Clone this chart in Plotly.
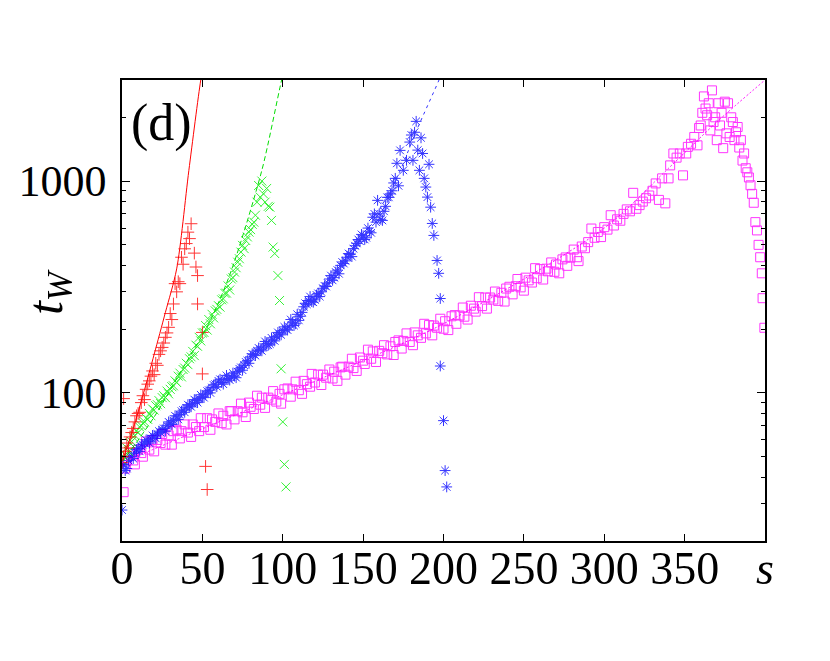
import plotly.graph_objects as go
import math

# ---------------- data ----------------
red_s = [0, 1, 1, 2, 3, 4, 5, 6, 7, 8, 9, 10, 11, 12, 13, 14, 15, 16, 17, 18, 19, 20, 21, 22, 23, 24,
         25, 26, 27, 28, 29, 30, 31, 32, 33, 34, 35, 36, 37, 38, 39, 40, 41, 42, 43, 45, 46, 47, 47,
         50, 50, 52, 53]
red_t = [47, 94, 50, 53, 58, 55, 62, 65, 68, 73, 78, 80, 81, 90, 97, 93, 104, 110, 114, 120, 127, 122,
         138, 135, 152, 158, 164, 172, 183, 192, 204, 237, 222, 263, 328, 300, 335, 328, 437, 405, 479,
         507, 574, 535, 629, 457, 393, 358, 263, 193, 123, 45, 35]

green_s = list(range(0, 96)) + [97, 98, 99, 100, 101, 102]
green_t = [48, 50, 51, 55, 53, 58, 59, 62, 63, 66, 65, 69, 70, 72, 73, 76, 75, 80, 78, 84,
           83, 87, 88, 92, 89, 95, 97, 95, 102, 99, 104, 107, 108, 114, 112, 120, 124, 119, 129, 131,
           138, 136, 145, 148, 157, 150, 168, 166, 183, 176, 192, 193, 208, 198, 222, 212, 235, 226, 244, 248,
           258, 254, 275, 278, 295, 296, 320, 306, 345, 350, 372, 390, 414, 430, 462, 497, 480, 524, 545, 574,
           590, 625, 640, 690, 795, 953, 840, 1000, 870, 795, 923, 760, 753, 652, 488, 455,
           358, 273, 130, 73, 46, 36]

blue_s = [0, 0, 2, 4, 6, 8, 10, 12, 14, 16, 18, 20, 22, 24, 26, 28, 30, 32, 34, 36, 38, 40, 42, 44, 46,
          48, 50, 52, 54, 56, 58, 60, 62, 64, 66, 68, 70, 72, 74, 76, 78, 80, 82, 84, 86, 88, 90, 92, 94,
          96, 98, 100, 102, 104, 106, 108, 110, 112, 114, 116, 118, 120, 122, 124, 126, 128, 130, 132,
          134, 136, 138, 140, 142, 144, 146, 148, 150, 152, 154, 156, 158, 160, 162, 164, 166, 168, 170,
          171, 172, 173, 175, 177, 179, 180, 181, 182, 183, 184, 185, 186, 187, 188, 189, 190, 191, 192,
          193, 194, 196, 197, 198, 198, 200, 201, 202,
          1, 3, 5, 7, 9, 11, 13, 15, 17, 19, 21, 23, 25, 27, 29, 31, 33, 35, 37, 39, 41, 43, 45, 47, 49,
          51, 53, 55, 57, 59, 61, 63, 65, 67, 69, 71, 73, 75, 77, 79, 81, 83, 85, 87, 89, 91, 93, 95, 97,
          99, 101, 103, 105, 107, 109, 111, 113, 115, 117, 119, 121, 123, 125, 127, 129, 131, 133, 135,
          137, 139, 141, 143, 145, 147, 149, 151, 153, 155, 157, 159, 161, 163, 165, 167, 169]
blue_t = [28, 45, 43, 48, 50, 52, 55, 56, 58, 59, 61, 62, 64, 65, 68, 70, 72, 74, 77, 79, 83, 85, 87, 89,
          92, 94, 96, 99, 103, 106, 110, 114, 112, 116, 117, 119, 120, 126, 132, 135, 142, 148, 152, 158,
          160, 165, 171, 170, 178, 185, 190, 197, 200, 205, 216, 212, 220, 240, 265, 273, 270, 275, 295,
          300, 320, 330, 358, 350, 380, 400, 408, 437, 450, 480, 508, 520, 552, 540, 580, 675, 640, 700,
          652, 760, 838, 900, 1030, 1213, 950, 1396, 1124, 1253, 1528, 1650, 1253, 1700, 1914, 1400, 1124,
          1600, 1350, 1030, 937, 840, 1200, 753, 631, 554, 422, 367, 279, 134, 74, 43, 36,
          46, 44, 50, 49, 54, 53, 57, 60, 58, 63, 61, 66, 67, 66, 73, 71, 78, 75, 82, 81, 88, 86, 93, 90,
          98, 95, 102, 100, 109, 107, 116, 110, 121, 115, 124, 118, 130, 128, 140, 138, 153, 150, 163,
          158, 175, 168, 182, 176, 193, 188, 205, 198, 222, 208, 235, 230, 255, 262, 285, 268, 290, 285,
          312, 318, 345, 340, 372, 365, 415, 420, 455, 440, 495, 530, 560, 530, 600, 570, 700, 811, 660,
          720, 838, 870, 980]

mag_s = [0, 2, 3, 5, 7, 8, 10, 12, 13, 15, 17, 19, 20, 22, 24, 25, 27, 29, 31, 32,
         34, 36, 37, 39, 41, 43, 44, 46, 48, 49, 51, 53, 55, 56, 58, 60, 62, 63, 65, 67,
         68, 70, 72, 74, 75, 77, 79, 80, 82, 84, 86, 87, 89, 91, 93, 94, 96, 98, 99, 101,
         103, 105, 106, 108, 110, 112, 113, 115, 117, 118, 120, 122, 124, 125, 127, 129, 131, 132, 134, 136,
         137, 139, 141, 143, 144, 146, 148, 150, 151, 153, 155, 156, 158, 160, 162, 163, 165, 167, 169, 170,
         172, 174, 175, 177, 179, 181, 182, 184, 186, 188, 189, 191, 193, 194, 196, 198, 200, 201, 203, 205,
         207, 208, 210, 212, 213, 215, 217, 219, 220, 222, 224, 226, 227, 229, 231, 232, 234, 236, 238, 239,
         241, 243, 245, 246, 248, 250, 251, 253, 255, 257, 258, 260, 262, 264, 265, 267, 269, 270, 272, 274,
         276, 277, 279, 281, 283, 284, 286, 288,
         1, 290, 292, 294, 296, 298, 300, 302, 304, 306, 308, 310, 312, 314, 316,
         318, 320, 322, 324, 326, 328, 330, 332, 334, 336, 338, 340, 341, 343, 345, 347, 349, 351, 352,
         354, 356, 358, 359, 360, 361, 362, 363, 364, 365, 366, 367, 368, 369, 370, 371, 372, 373, 374,
         375, 376, 377, 378, 379, 380, 381, 382, 383, 384, 385, 386, 387, 388, 389, 390, 391, 392, 393,
         394, 395, 396, 397, 398, 398.5, 399.6]
mag_t = [48, 44, 48, 52, 48, 46, 54, 52, 50, 59, 54, 60, 53, 60, 58, 64, 57, 63, 57, 66,
         67, 61, 66, 71, 65, 62, 71, 69, 66, 76, 69, 76, 67, 75, 73, 80, 72, 78, 71, 82,
         82, 75, 82, 89, 81, 77, 90, 86, 84, 97, 88, 95, 85, 95, 93, 102, 91, 99, 89, 104,
         105, 96, 104, 113, 103, 99, 114, 110, 107, 123, 112, 122, 109, 122, 118, 129, 117, 126, 114, 132,
         133, 122, 133, 145, 131, 127, 147, 142, 137, 160, 145, 157, 140, 158, 154, 168, 152, 166, 151, 174,
         177, 162, 176, 191, 174, 168, 193, 187, 182, 212, 191, 209, 187, 208, 203, 224, 201, 218, 198, 230,
         233, 212, 232, 253, 229, 222, 258, 250, 242, 283, 257, 282, 250, 282, 276, 301, 272, 297, 270, 311,
         317, 292, 319, 345, 315, 304, 350, 340, 332, 388, 348, 384, 343, 386, 375, 413, 373, 404, 367, 427,
         436, 398, 435, 475, 437, 419, 491, 482,
         34, 515, 597, 540, 575, 544, 606, 590, 690, 617, 660, 650, 700, 735, 720, 880, 740, 770,
         800, 830, 855, 900, 975, 815, 1030, 785, 1030, 1186, 1350, 1290, 1350, 1064, 1350, 1450, 1500,
         1615, 1475, 1780, 1830, 2100, 2510, 2200, 2045, 2330, 1735, 2680, 1900, 2000, 1560, 2330, 1830,
         2100, 1430, 2370, 1680, 2330, 1615, 2000, 1900, 1560, 1700, 1800, 1440, 1560, 1250, 1350, 1150,
         1100, 1040, 955, 870, 790, 640, 585, 500, 437, 367, 280, 203, 128]

# fitted curves
red_fit_s = [0, 7, 13.3, 20, 27, 34, 41.6, 49, 51]
red_fit_t = [47, 68, 99, 152, 240, 385, 1124, 3000, 3600]
green_fit_s = [0, 20, 36, 55, 68, 87, 99.3, 102]
green_fit_t = [47, 77, 124, 220, 378, 1124, 3000, 3600]
blue_fit_s = [0, 50, 100, 140, 170, 183.3, 197.2, 200]
blue_fit_t = [47, 92, 190, 420, 1000, 1740, 3000, 3400]
mag_fit_s = [0, 100, 200, 300, 340, 370, 400]
mag_fit_t = [47, 98, 212, 600, 1150, 1900, 3000]

x_tickvals = [0, 50, 100, 150, 200, 250, 300, 350, 400]
x_ticktext = ["0", "50", "100", "150", "200", "250", "300", "350", "<i>s</i>"]
y_tickvals = [100, 1000]
y_ticktext = ["100", "1000"]
y_minor = [30, 40, 50, 60, 70, 80, 90, 200, 300, 400, 500, 600, 700, 800, 900, 2000]

FONT = "Liberation Serif"

fig = go.Figure()

def add_fit(xs, ys, color, dash):
    fig.add_trace(go.Scatter(x=xs, y=ys, mode="lines", line=dict(color=color, width=1, dash=dash,
                                                                 shape="spline", smoothing=0.8),
                             showlegend=False, hoverinfo="skip"))

def add_pts(xs, ys, color, symbol, size):
    fig.add_trace(go.Scatter(x=xs, y=ys, mode="markers",
                             marker=dict(symbol=symbol, size=size, color=color,
                                         line=dict(width=1, color=color)),
                             opacity=0.8, showlegend=False))

add_pts(mag_s, mag_t, "#ff00ff", "square-open", 9)
add_pts(blue_s, blue_t, "#0000ff", "asterisk", 9)
add_pts(green_s, green_t, "#00ee00", "x-thin", 9)
add_pts(red_s, red_t, "#ff0000", "cross-thin", 9)

add_fit(red_fit_s, red_fit_t, "#ff0000", "solid")
add_fit(green_fit_s, green_fit_t, "#00dd00", "5px,3px")
add_fit(blue_fit_s, blue_fit_t, "#3333ff", "3px,4px")
add_fit(mag_fit_s, mag_fit_t, "#ff00ff", "2px,2px")

fig.update_layout(
    width=830, height=661,
    margin=dict(l=122, r=65, t=80, b=120),
    paper_bgcolor="white", plot_bgcolor="white",
    font=dict(family=FONT, size=46, color="black"),
    showlegend=False,
)
fig.update_xaxes(
    range=[0, 400], tickvals=x_tickvals, ticktext=x_ticktext,
    ticks="inside", ticklen=7, tickwidth=1, tickcolor="black",
    showline=True, linecolor="black", linewidth=1.5, mirror="ticks",
    showgrid=False, zeroline=False, ticklabelstandoff=-14,
    tickfont=dict(family=FONT, size=46),
)
fig.update_yaxes(
    type="log", range=[math.log10(20), math.log10(3000)],
    tickvals=y_tickvals, ticktext=y_ticktext,
    ticks="inside", ticklen=8, tickwidth=1, tickcolor="black",
    minor=dict(tickvals=y_minor, ticks="inside", ticklen=4, tickwidth=1, tickcolor="black", showgrid=False),
    showline=True, linecolor="black", linewidth=1.5, mirror="ticks",
    showgrid=False, zeroline=False, ticklabelstandoff=5,
    tickfont=dict(family=FONT, size=44),
)

fig.add_annotation(text="(d)", x=0.061, y=0.907, xref="paper", yref="paper",
                   showarrow=False, font=dict(family=FONT, size=52, color="black"),
                   xanchor="center", yanchor="middle")
fig.add_annotation(text="<i>t</i><sub><i>W</i></sub>", x=-0.1135, y=0.54, xref="paper", yref="paper",
                   showarrow=False, textangle=-90, font=dict(family=FONT, size=50, color="black"),
                   xanchor="center", yanchor="middle")

fig.write_html("out.html")
